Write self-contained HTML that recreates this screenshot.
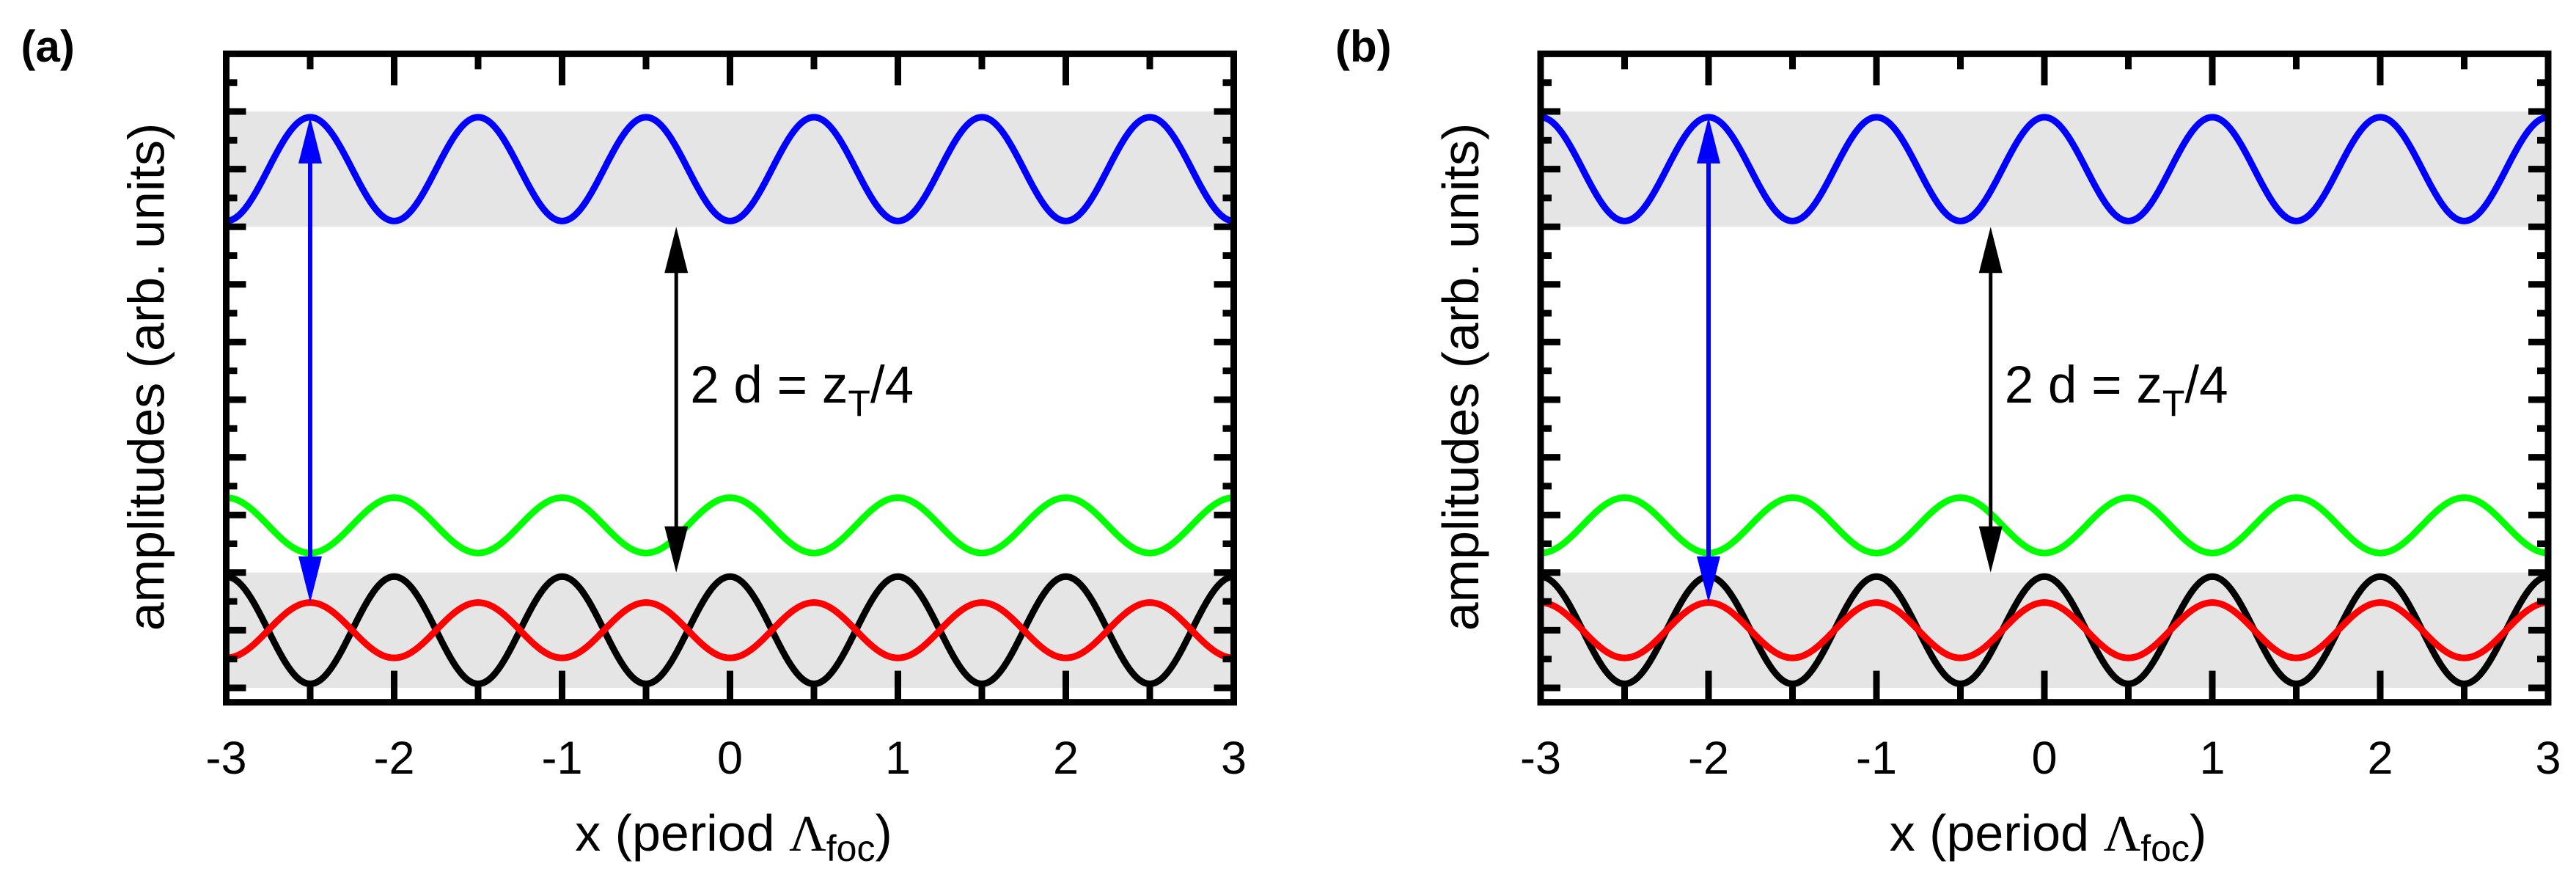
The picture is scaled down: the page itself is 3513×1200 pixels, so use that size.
<!DOCTYPE html>
<html><head><meta charset="utf-8"><style>
html,body{margin:0;padding:0;background:#fff;}
svg{display:block;font-family:"Liberation Sans",Arial,sans-serif;}
</style></head><body>
<svg id="fig" width="3513" height="1200" viewBox="0 0 3513 1200" xmlns="http://www.w3.org/2000/svg"></svg>
<script>
const xTicks = [-3, -2, -1, 0, 1, 2, 3];
const xTickLabels = ["-3", "-2", "-1", "0", "1", "2", "3"];
const bands = [[8, 10], [0, 2]];
// series: center, amplitude, phase sign (+1 peak at integers, -1 peak at half-integers)
const blueA = [9, 0.9, -1], blackA = [1, 0.93, 1], redA = [1, 0.48, -1], greenA = [2.82, 0.48, 1];
const blueB = [9, 0.9, 1], blackB = [1, 0.93, 1], redB = [1, 0.48, 1], greenB = [2.82, 0.48, -1];
const blueArrowX = [-2.5, -2];
const blueArrowY = [9.9, 1.48];
const blackArrowX = -0.32;
const blackArrowY = [8, 2];

const NS = "http://www.w3.org/2000/svg";
const svg = document.getElementById('fig');
function mk(tag, attrs, parent) {
  const e = document.createElementNS(NS, tag);
  for (const k in attrs) e.setAttribute(k, attrs[k]);
  (parent || svg).appendChild(e);
  return e;
}

function panel(idx, left, label, series, colors) {
  const unit = 229;
  const X = v => left + (v + 3) * unit;
  const Y = v => 938 - v * 78.6;
  const top = Y(11), bot = Y(-0.25), right = X(3);
  const g = mk('g', {});
  
  
  // bands
  bands.forEach((b, i) => {
    const r = mk('rect', {x: X(-3), y: Y(b[1]), width: X(3) - X(-3), height: Y(b[0]) - Y(b[1]), fill: '#e5e5e5'}, g);
    
    
  });
  // curves
  const names = ['blue-curve', 'black-curve', 'red-curve', 'green-curve'];
  series.forEach((s, i) => {
    let d = '';
    for (let k = 0; k <= 600; k++) {
      const xv = -3 + 6 * k / 600;
      const yv = s[0] + s[2] * s[1] * Math.cos(2 * Math.PI * xv);
      d += (k ? 'L' : 'M') + X(xv).toFixed(2) + ' ' + Y(yv).toFixed(2);
    }
    const p = mk('path', {d: d, fill: 'none', stroke: colors[i], 'stroke-width': 9, 'stroke-linejoin': 'round'}, g);
    
    
  });
  // blue arrow (single head at each end)
  const bx = X(blueArrowX[idx]);
  const by1 = Y(blueArrowY[0]), by2 = Y(blueArrowY[1]);
  const ba = mk('g', {}, g);
  
  
  mk('line', {x1: bx, y1: by1 + 60, x2: bx, y2: by2 - 60, stroke: '#0000ff', 'stroke-width': 6}, ba);
  mk('polygon', {points: `${bx},${by1} ${bx-16},${by1+63} ${bx+16},${by1+63}`, fill: '#0000ff'}, ba);
  mk('polygon', {points: `${bx},${by2} ${bx-16},${by2-63} ${bx+16},${by2-63}`, fill: '#0000ff'}, ba);
  // black arrow
  const kx = X(blackArrowX);
  const ky1 = Y(blackArrowY[0]), ky2 = Y(blackArrowY[1]);
  const ka = mk('g', {}, g);
  
  
  mk('line', {x1: kx, y1: ky1 + 60, x2: kx, y2: ky2 - 60, stroke: '#000', 'stroke-width': 5}, ka);
  mk('polygon', {points: `${kx},${ky1} ${kx-16},${ky1+63} ${kx+16},${ky1+63}`, fill: '#000'}, ka);
  mk('polygon', {points: `${kx},${ky2} ${kx-16},${ky2-63} ${kx+16},${ky2-63}`, fill: '#000'}, ka);
  // annotation
  const t = mk('text', {x: kx + 19, y: 549, 'font-size': 71, fill: '#000'}, g);
  
  
  t.innerHTML = '2 d = z<tspan font-size="50" dy="18">T</tspan><tspan dy="-18">/4</tspan>';
  // frame
  const fr = mk('rect', {x: X(-3), y: top, width: right - X(-3), height: bot - top, fill: 'none', stroke: '#000', 'stroke-width': 9}, g);
  
  
  // x ticks
  for (let v = -3; v <= 3.001; v += 0.5) {
    const major = Math.abs(v - Math.round(v)) < 1e-6;
    const L = major ? 39 : 17;
    const xx = X(v);
    mk('line', {x1: xx, y1: top, x2: xx, y2: top + 4 + L, stroke: '#000', 'stroke-width': 9}, g);
    mk('line', {x1: xx, y1: bot, x2: xx, y2: bot - 4 - L, stroke: '#000', 'stroke-width': 9}, g);
  }
  // y ticks
  for (let v = 0; v <= 10.75; v += 0.5) {
    const major = Math.abs(v - Math.round(v)) < 1e-6;
    const L = major ? 23 : 11;
    const yy = Y(v);
    mk('line', {x1: X(-3), y1: yy, x2: X(-3) + 4 + L, y2: yy, stroke: '#000', 'stroke-width': 9}, g);
    mk('line', {x1: right, y1: yy, x2: right - 4 - L, y2: yy, stroke: '#000', 'stroke-width': 9}, g);
  }
  // tick labels
  xTicks.forEach((v, i) => {
    const tl = mk('text', {x: X(v), y: 1055, 'font-size': 63, 'text-anchor': 'middle', fill: '#000'}, g);
    
    
    tl.textContent = xTickLabels[i];
  });
  // x title
  const xt = mk('text', {x: X(0) + 5, y: 1160, 'font-size': 70, 'text-anchor': 'middle', fill: '#000'}, g);
  
  
  xt.innerHTML = 'x (period <tspan font-family="Liberation Serif, serif">Λ</tspan><tspan font-size="50" dy="14">foc</tspan><tspan dy="-14">)</tspan>';
  // y title
  const yc = 514, xc = left - 110;
  const yt = mk('text', {x: xc, y: yc, 'font-size': 70, 'text-anchor': 'middle', fill: '#000', transform: `rotate(-90 ${xc} ${yc})`, dy: 25}, g);
  
  
  yt.textContent = 'amplitudes (arb. units)';
  // panel label
  const pl = mk('text', {x: left - 280, y: 84, 'font-size': 60, 'font-weight': 'bold', fill: '#000'}, g);
  
  
  pl.textContent = '(' + label + ')';
}
const cols = ['#0000ff', '#000000', '#ff0000', '#00ff00'];
panel(0, 308.5, 'a', [blueA, blackA, redA, greenA], cols);
panel(1, 2101, 'b', [blueB, blackB, redB, greenB], cols);
</script>
</body></html>
